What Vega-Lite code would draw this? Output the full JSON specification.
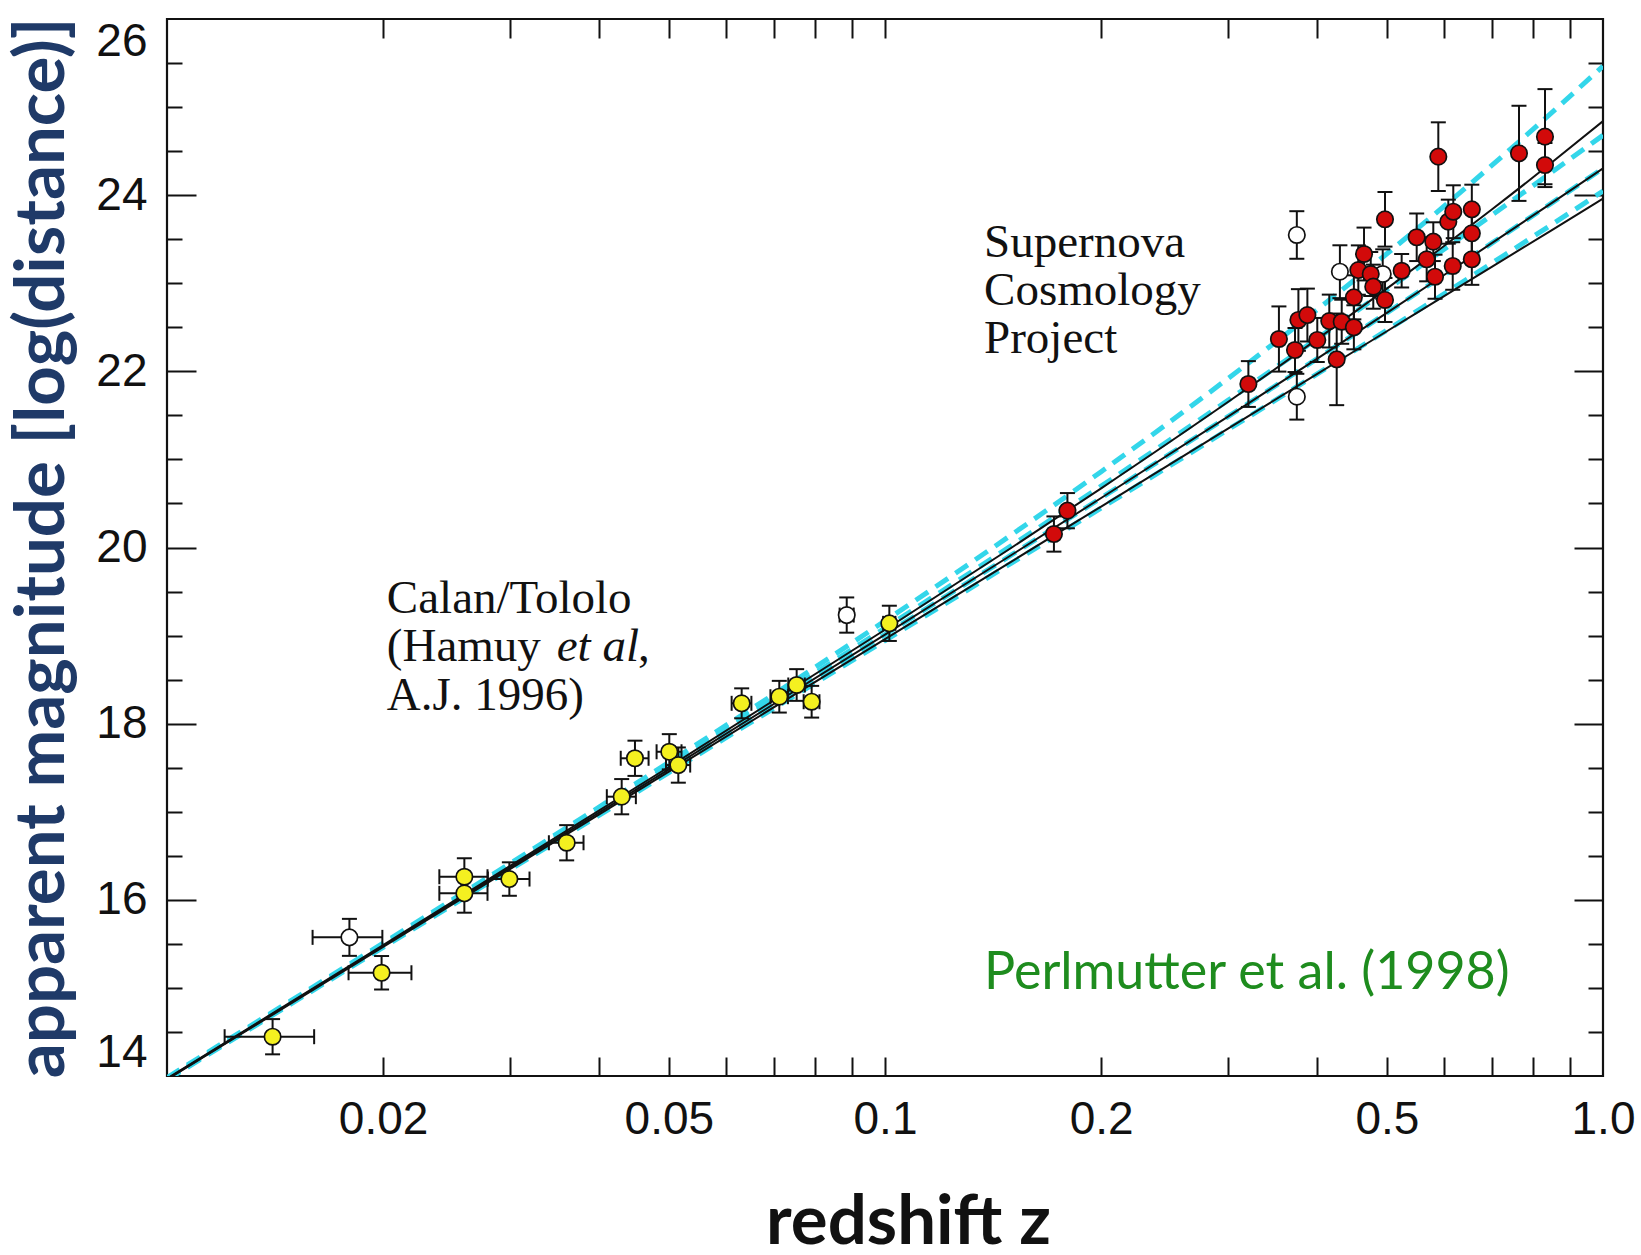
{
  "$schema": "https://vega.github.io/schema/vega-lite/v6.json",
  "width": 1436,
  "height": 1057,
  "autosize": {"type": "none"},
  "padding": {"left": 167, "top": 19, "right": 38, "bottom": 179},
  "background": "white",
  "config": {
    "view": {"stroke": "#111111", "strokeWidth": 2.2},
    "axis": {
      "grid": false,
      "domain": false,
      "labelFont": "Liberation Sans",
      "labelFontSize": 46,
      "labelColor": "#111111",
      "tickColor": "#111111",
      "tickWidth": 2,
      "titleFont": "Lato",
      "titleFontWeight": "bold",
      "titleFontSize": 69,
      "labelOverlap": false,
      "labelBound": false
    }
  },
  "datasets": {
    "solid": [
      {"model": "Om0_OL0", "z": 0.01, "m": 13.971}, {"model": "Om0_OL0", "z": 0.02, "m": 15.487}, {"model": "Om0_OL0", "z": 0.05, "m": 17.508}, {"model": "Om0_OL0", "z": 0.1, "m": 19.066}, {"model": "Om0_OL0", "z": 0.15, "m": 19.997}, {"model": "Om0_OL0", "z": 0.2, "m": 20.672}, {"model": "Om0_OL0", "z": 0.3, "m": 21.649}, {"model": "Om0_OL0", "z": 0.4, "m": 22.366}, {"model": "Om0_OL0", "z": 0.5, "m": 22.939}, {"model": "Om0_OL0", "z": 0.6, "m": 23.42}, {"model": "Om0_OL0", "z": 0.7, "m": 23.837}, {"model": "Om0_OL0", "z": 0.85, "m": 24.376}, {"model": "Om0_OL0", "z": 1.0, "m": 24.84},
      {"model": "Om1_OL0", "z": 0.01, "m": 13.965}, {"model": "Om1_OL0", "z": 0.02, "m": 15.476}, {"model": "Om1_OL0", "z": 0.05, "m": 17.481}, {"model": "Om1_OL0", "z": 0.1, "m": 19.011}, {"model": "Om1_OL0", "z": 0.15, "m": 19.915}, {"model": "Om1_OL0", "z": 0.2, "m": 20.562}, {"model": "Om1_OL0", "z": 0.3, "m": 21.483}, {"model": "Om1_OL0", "z": 0.4, "m": 22.145}, {"model": "Om1_OL0", "z": 0.5, "m": 22.664}, {"model": "Om1_OL0", "z": 0.6, "m": 23.091}, {"model": "Om1_OL0", "z": 0.7, "m": 23.455}, {"model": "Om1_OL0", "z": 0.85, "m": 23.916}, {"model": "Om1_OL0", "z": 1.0, "m": 24.304},
      {"model": "Om2_OL0", "z": 0.01, "m": 13.96}, {"model": "Om2_OL0", "z": 0.02, "m": 15.465}, {"model": "Om2_OL0", "z": 0.05, "m": 17.455}, {"model": "Om2_OL0", "z": 0.1, "m": 18.96}, {"model": "Om2_OL0", "z": 0.15, "m": 19.84}, {"model": "Om2_OL0", "z": 0.2, "m": 20.465}, {"model": "Om2_OL0", "z": 0.3, "m": 21.346}, {"model": "Om2_OL0", "z": 0.4, "m": 21.97}, {"model": "Om2_OL0", "z": 0.5, "m": 22.455}, {"model": "Om2_OL0", "z": 0.6, "m": 22.851}, {"model": "Om2_OL0", "z": 0.7, "m": 23.186}, {"model": "Om2_OL0", "z": 0.85, "m": 23.607}, {"model": "Om2_OL0", "z": 1.0, "m": 23.96}
    ],
    "dashed": [
      {"model": "Om0_OL1", "z": 0.01, "m": 13.982}, {"model": "Om0_OL1", "z": 0.02, "m": 15.508}, {"model": "Om0_OL1", "z": 0.05, "m": 17.561}, {"model": "Om0_OL1", "z": 0.1, "m": 19.167}, {"model": "Om0_OL1", "z": 0.15, "m": 20.144}, {"model": "Om0_OL1", "z": 0.2, "m": 20.861}, {"model": "Om0_OL1", "z": 0.3, "m": 21.915}, {"model": "Om0_OL1", "z": 0.4, "m": 22.701}, {"model": "Om0_OL1", "z": 0.5, "m": 23.335}, {"model": "Om0_OL1", "z": 0.6, "m": 23.871}, {"model": "Om0_OL1", "z": 0.7, "m": 24.338}, {"model": "Om0_OL1", "z": 0.85, "m": 24.943}, {"model": "Om0_OL1", "z": 1.0, "m": 25.465},
      {"model": "Om05_OL05", "z": 0.01, "m": 13.973}, {"model": "Om05_OL05", "z": 0.02, "m": 15.492}, {"model": "Om05_OL05", "z": 0.05, "m": 17.52}, {"model": "Om05_OL05", "z": 0.1, "m": 19.085}, {"model": "Om05_OL05", "z": 0.15, "m": 20.021}, {"model": "Om05_OL05", "z": 0.2, "m": 20.696}, {"model": "Om05_OL05", "z": 0.3, "m": 21.668}, {"model": "Om05_OL05", "z": 0.4, "m": 22.372}, {"model": "Om05_OL05", "z": 0.5, "m": 22.926}, {"model": "Om05_OL05", "z": 0.6, "m": 23.383}, {"model": "Om05_OL05", "z": 0.7, "m": 23.772}, {"model": "Om05_OL05", "z": 0.85, "m": 24.265}, {"model": "Om05_OL05", "z": 1.0, "m": 24.68},
      {"model": "Om1_OL0", "z": 0.01, "m": 13.965}, {"model": "Om1_OL0", "z": 0.02, "m": 15.476}, {"model": "Om1_OL0", "z": 0.05, "m": 17.481}, {"model": "Om1_OL0", "z": 0.1, "m": 19.011}, {"model": "Om1_OL0", "z": 0.15, "m": 19.915}, {"model": "Om1_OL0", "z": 0.2, "m": 20.562}, {"model": "Om1_OL0", "z": 0.3, "m": 21.483}, {"model": "Om1_OL0", "z": 0.4, "m": 22.145}, {"model": "Om1_OL0", "z": 0.5, "m": 22.664}, {"model": "Om1_OL0", "z": 0.6, "m": 23.091}, {"model": "Om1_OL0", "z": 0.7, "m": 23.455}, {"model": "Om1_OL0", "z": 0.85, "m": 23.916}, {"model": "Om1_OL0", "z": 1.0, "m": 24.304},
      {"model": "Om15_OLm05", "z": 0.01, "m": 13.957}, {"model": "Om15_OLm05", "z": 0.02, "m": 15.46}, {"model": "Om15_OLm05", "z": 0.05, "m": 17.445}, {"model": "Om15_OLm05", "z": 0.1, "m": 18.944}, {"model": "Om15_OLm05", "z": 0.15, "m": 19.823}, {"model": "Om15_OLm05", "z": 0.2, "m": 20.448}, {"model": "Om15_OLm05", "z": 0.3, "m": 21.335}, {"model": "Om15_OLm05", "z": 0.4, "m": 21.97}, {"model": "Om15_OLm05", "z": 0.5, "m": 22.467}, {"model": "Om15_OLm05", "z": 0.6, "m": 22.877}, {"model": "Om15_OLm05", "z": 0.7, "m": 23.227}, {"model": "Om15_OLm05", "z": 0.85, "m": 23.671}, {"model": "Om15_OLm05", "z": 1.0, "m": 24.046}
    ],
    "sn": [
      {"grp": "Calan/Tololo", "z": 0.01403, "m": 14.446, "mlo": 14.246, "mhi": 14.646, "zlo": 0.01203, "zhi": 0.01603},
      {"grp": "Calan/Tololo", "z": 0.0199, "m": 15.172, "mlo": 14.982, "mhi": 15.362, "zlo": 0.0179, "zhi": 0.0219},
      {"grp": "other", "z": 0.01795, "m": 15.574, "mlo": 15.364, "mhi": 15.784, "zlo": 0.01595, "zhi": 0.01995},
      {"grp": "Calan/Tololo", "z": 0.02595, "m": 16.262, "mlo": 16.052, "mhi": 16.472, "zlo": 0.02395, "zhi": 0.02795},
      {"grp": "Calan/Tololo", "z": 0.02595, "m": 16.074, "mlo": 15.854, "mhi": 16.294, "zlo": 0.02395, "zhi": 0.02795},
      {"grp": "Calan/Tololo", "z": 0.02998, "m": 16.236, "mlo": 16.046, "mhi": 16.426, "zlo": 0.02798, "zhi": 0.03198},
      {"grp": "Calan/Tololo", "z": 0.03603, "m": 16.648, "mlo": 16.448, "mhi": 16.848, "zlo": 0.03403, "zhi": 0.03803},
      {"grp": "Calan/Tololo", "z": 0.04298, "m": 17.171, "mlo": 16.971, "mhi": 17.371, "zlo": 0.04098, "zhi": 0.04498},
      {"grp": "Calan/Tololo", "z": 0.04485, "m": 17.607, "mlo": 17.407, "mhi": 17.807, "zlo": 0.04285, "zhi": 0.04685},
      {"grp": "Calan/Tololo", "z": 0.05007, "m": 17.681, "mlo": 17.481, "mhi": 17.881, "zlo": 0.04807, "zhi": 0.05207},
      {"grp": "Calan/Tololo", "z": 0.05154, "m": 17.53, "mlo": 17.33, "mhi": 17.73, "zlo": 0.04954, "zhi": 0.05354},
      {"grp": "Calan/Tololo", "z": 0.06315, "m": 18.231, "mlo": 18.061, "mhi": 18.401, "zlo": 0.06115, "zhi": 0.06515},
      {"grp": "Calan/Tololo", "z": 0.07125, "m": 18.306, "mlo": 18.126, "mhi": 18.486, "zlo": 0.06925, "zhi": 0.07325},
      {"grp": "Calan/Tololo", "z": 0.07533, "m": 18.439, "mlo": 18.259, "mhi": 18.619, "zlo": 0.07333, "zhi": 0.07733},
      {"grp": "Calan/Tololo", "z": 0.07904, "m": 18.249, "mlo": 18.069, "mhi": 18.429, "zlo": 0.07704, "zhi": 0.08104},
      {"grp": "other", "z": 0.08845, "m": 19.233, "mlo": 19.033, "mhi": 19.433, "zlo": 0.08645, "zhi": 0.09045},
      {"grp": "Calan/Tololo", "z": 0.1014, "m": 19.139, "mlo": 18.939, "mhi": 19.339, "zlo": 0.0994, "zhi": 0.1034},
      {"grp": "other", "z": 0.3746, "m": 23.548, "mlo": 23.278, "mhi": 23.818},
      {"grp": "other", "z": 0.3746, "m": 21.712, "mlo": 21.452, "mhi": 21.972},
      {"grp": "other", "z": 0.4301, "m": 23.131, "mlo": 22.831, "mhi": 23.431},
      {"grp": "other", "z": 0.4934, "m": 23.105, "mlo": 22.825, "mhi": 23.385},
      {"grp": "SCP", "z": 0.1719, "m": 20.153, "mlo": 19.953, "mhi": 20.353},
      {"grp": "SCP", "z": 0.1795, "m": 20.418, "mlo": 20.218, "mhi": 20.618},
      {"grp": "SCP", "z": 0.3207, "m": 21.856, "mlo": 21.596, "mhi": 22.116},
      {"grp": "SCP", "z": 0.3537, "m": 22.367, "mlo": 21.997, "mhi": 22.737},
      {"grp": "SCP", "z": 0.3724, "m": 22.242, "mlo": 21.992, "mhi": 22.492},
      {"grp": "SCP", "z": 0.3765, "m": 22.583, "mlo": 22.233, "mhi": 22.933},
      {"grp": "SCP", "z": 0.3875, "m": 22.639, "mlo": 22.339, "mhi": 22.939},
      {"grp": "SCP", "z": 0.4, "m": 22.356, "mlo": 22.106, "mhi": 22.606},
      {"grp": "SCP", "z": 0.4157, "m": 22.571, "mlo": 22.271, "mhi": 22.871},
      {"grp": "SCP", "z": 0.4257, "m": 22.136, "mlo": 21.616, "mhi": 22.656},
      {"grp": "SCP", "z": 0.4326, "m": 22.563, "mlo": 22.313, "mhi": 22.813},
      {"grp": "SCP", "z": 0.4498, "m": 22.5, "mlo": 22.25, "mhi": 22.75},
      {"grp": "SCP", "z": 0.4498, "m": 22.84, "mlo": 22.59, "mhi": 23.09},
      {"grp": "SCP", "z": 0.4563, "m": 23.15, "mlo": 22.87, "mhi": 23.43},
      {"grp": "SCP", "z": 0.4647, "m": 23.332, "mlo": 23.032, "mhi": 23.632},
      {"grp": "SCP", "z": 0.4748, "m": 23.105, "mlo": 22.855, "mhi": 23.355},
      {"grp": "SCP", "z": 0.4787, "m": 22.961, "mlo": 22.711, "mhi": 23.211},
      {"grp": "SCP", "z": 0.497, "m": 22.81, "mlo": 22.56, "mhi": 23.06},
      {"grp": "SCP", "z": 0.497, "m": 23.726, "mlo": 23.416, "mhi": 24.036},
      {"grp": "SCP", "z": 0.5243, "m": 23.142, "mlo": 22.952, "mhi": 23.332},
      {"grp": "SCP", "z": 0.5502, "m": 23.522, "mlo": 23.252, "mhi": 23.792},
      {"grp": "SCP", "z": 0.5681, "m": 23.272, "mlo": 23.022, "mhi": 23.522},
      {"grp": "SCP", "z": 0.5803, "m": 23.472, "mlo": 23.252, "mhi": 23.692},
      {"grp": "SCP", "z": 0.5835, "m": 23.074, "mlo": 22.824, "mhi": 23.324},
      {"grp": "SCP", "z": 0.5897, "m": 24.437, "mlo": 24.047, "mhi": 24.827},
      {"grp": "SCP", "z": 0.6089, "m": 23.699, "mlo": 23.449, "mhi": 23.949},
      {"grp": "SCP", "z": 0.6176, "m": 23.196, "mlo": 22.926, "mhi": 23.466},
      {"grp": "SCP", "z": 0.6187, "m": 23.812, "mlo": 23.512, "mhi": 24.112},
      {"grp": "SCP", "z": 0.6566, "m": 23.839, "mlo": 23.559, "mhi": 24.119},
      {"grp": "SCP", "z": 0.6566, "m": 23.567, "mlo": 23.317, "mhi": 23.817},
      {"grp": "SCP", "z": 0.6566, "m": 23.272, "mlo": 22.982, "mhi": 23.562},
      {"grp": "SCP", "z": 0.7638, "m": 24.475, "mlo": 23.935, "mhi": 25.015},
      {"grp": "SCP", "z": 0.8302, "m": 24.664, "mlo": 24.124, "mhi": 25.204},
      {"grp": "SCP", "z": 0.8302, "m": 24.342, "mlo": 24.092, "mhi": 24.592}
    ],
    "serif": [
      {"text": "Supernova", "z": 0.1374, "m": 23.3},
      {"text": "Cosmology", "z": 0.1374, "m": 22.753},
      {"text": "Project", "z": 0.1374, "m": 22.206},
      {"text": "Calan/Tololo", "z": 0.02024, "m": 19.253},
      {"text": "(Hamuy", "z": 0.02024, "m": 18.706},
      {"text": ",", "z": 0.0453, "m": 18.706},
      {"text": "A.J. 1996)", "z": 0.02024, "m": 18.159}
    ],
    "italic": [
      {"text": "et al", "z": 0.0349, "m": 18.706}
    ],
    "credit": [
      {"text": "Perlmutter et al. (1998)", "z": 0.1374, "m": 14.987}
    ]
  },
  "resolve": {"axis": {"x": "independent", "y": "independent"}},
  "layer": [
    {
      "data": {"name": "dashed"},
      "mark": {"type": "line", "stroke": "#33d6ea", "strokeWidth": 5, "strokeDash": [15, 9], "clip": true, "interpolate": "monotone"},
      "encoding": {
        "x": {"field": "z", "type": "quantitative", "scale": {"type": "log", "domain": [0.01, 1], "nice": false},
          "axis": {"orient": "bottom", "values": [0.02, 0.05, 0.1, 0.2, 0.5, 1], "ticks": false, "labelPadding": 21, "labelFlush": false,
            "labelExpr": "datum.value == 1 ? '1.0' : format(datum.value, '~g')",
            "title": "redshift z", "titleColor": "#111111", "titlePadding": 46, "titleX": 741}},
        "y": {"field": "m", "type": "quantitative", "scale": {"domain": [14, 26], "zero": false, "nice": false},
          "axis": {"orient": "left", "values": [14, 16, 18, 20, 22, 24, 26], "ticks": false, "labelPadding": 20, "labelFlush": true, "format": "d",
            "title": "apparent magnitude [log(distance)]", "titleColor": "#1f3a68", "titlePadding": 18}},
        "detail": {"field": "model"}
      }
    },
    {
      "data": {"name": "solid"},
      "mark": {"type": "line", "stroke": "#111111", "strokeWidth": 2, "clip": true, "interpolate": "monotone"},
      "encoding": {
        "x": {"field": "z", "type": "quantitative", "scale": {"type": "log", "domain": [0.01, 1], "nice": false},
          "axis": {"orient": "bottom", "values": [0.02, 0.03, 0.04, 0.05, 0.06, 0.07, 0.08, 0.09, 0.1, 0.2, 0.3, 0.4, 0.5, 0.6, 0.7, 0.8, 0.9], "labels": false, "tickSize": -19, "title": null}},
        "y": {"field": "m", "type": "quantitative", "scale": {"domain": [14, 26], "zero": false, "nice": false},
          "axis": {"orient": "left", "values": [16, 18, 20, 22, 24], "labels": false, "tickSize": -29, "title": null}},
        "detail": {"field": "model"}
      }
    },
    {
      "data": {"name": "sn"},
      "mark": {"type": "rule", "stroke": "#111111", "strokeWidth": 2},
      "encoding": {
        "x": {"field": "z", "type": "quantitative", "scale": {"type": "log", "domain": [0.01, 1], "nice": false},
          "axis": {"orient": "top", "values": [0.02, 0.03, 0.04, 0.05, 0.06, 0.07, 0.08, 0.09, 0.1, 0.2, 0.3, 0.4, 0.5, 0.6, 0.7, 0.8, 0.9], "labels": false, "tickSize": -19, "title": null}},
        "y": {"field": "mlo", "type": "quantitative", "scale": {"domain": [14, 26], "zero": false, "nice": false},
          "axis": {"orient": "left", "values": [14.5, 15, 15.5, 16.5, 17, 17.5, 18.5, 19, 19.5, 20.5, 21, 21.5, 22.5, 23, 23.5, 24.5, 25, 25.5], "labels": false, "tickSize": -15, "title": null}},
        "y2": {"field": "mhi"}
      }
    },
    {
      "data": {"name": "sn"},
      "transform": [{"filter": "isValid(datum.zlo)"}],
      "mark": {"type": "rule", "stroke": "#111111", "strokeWidth": 2},
      "encoding": {
        "x": {"field": "zlo", "type": "quantitative", "scale": {"type": "log", "domain": [0.01, 1], "nice": false}, "axis": null},
        "x2": {"field": "zhi"},
        "y": {"field": "m", "type": "quantitative", "scale": {"domain": [14, 26], "zero": false, "nice": false},
          "axis": {"orient": "right", "values": [16, 18, 20, 22, 24], "labels": false, "tickSize": -29, "title": null}}
      }
    },
    {
      "data": {"name": "sn"},
      "mark": {"type": "tick", "orient": "horizontal", "color": "#111111", "size": 15, "thickness": 2, "opacity": 1},
      "encoding": {
        "x": {"field": "z", "type": "quantitative", "scale": {"type": "log", "domain": [0.01, 1], "nice": false}, "axis": null},
        "y": {"field": "mlo", "type": "quantitative", "scale": {"domain": [14, 26], "zero": false, "nice": false},
          "axis": {"orient": "right", "values": [14.5, 15, 15.5, 16.5, 17, 17.5, 18.5, 19, 19.5, 20.5, 21, 21.5, 22.5, 23, 23.5, 24.5, 25, 25.5], "labels": false, "tickSize": -15, "title": null}}
      }
    },
    {
      "data": {"name": "sn"},
      "mark": {"type": "tick", "orient": "horizontal", "color": "#111111", "size": 15, "thickness": 2, "opacity": 1},
      "encoding": {
        "x": {"field": "z", "type": "quantitative", "scale": {"type": "log", "domain": [0.01, 1], "nice": false}, "axis": null},
        "y": {"field": "mhi", "type": "quantitative", "scale": {"domain": [14, 26], "zero": false, "nice": false}, "axis": null}
      }
    },
    {
      "data": {"name": "sn"},
      "transform": [{"filter": "isValid(datum.zlo)"}],
      "mark": {"type": "tick", "orient": "vertical", "color": "#111111", "size": 15, "thickness": 2, "opacity": 1},
      "encoding": {
        "x": {"field": "zlo", "type": "quantitative", "scale": {"type": "log", "domain": [0.01, 1], "nice": false}, "axis": null},
        "y": {"field": "m", "type": "quantitative", "scale": {"domain": [14, 26], "zero": false, "nice": false}, "axis": null}
      }
    },
    {
      "data": {"name": "sn"},
      "transform": [{"filter": "isValid(datum.zhi)"}],
      "mark": {"type": "tick", "orient": "vertical", "color": "#111111", "size": 15, "thickness": 2, "opacity": 1},
      "encoding": {
        "x": {"field": "zhi", "type": "quantitative", "scale": {"type": "log", "domain": [0.01, 1], "nice": false}, "axis": null},
        "y": {"field": "m", "type": "quantitative", "scale": {"domain": [14, 26], "zero": false, "nice": false}, "axis": null}
      }
    },
    {
      "data": {"name": "sn"},
      "mark": {"type": "circle", "size": 270, "stroke": "#111111", "strokeWidth": 1.7, "opacity": 1},
      "encoding": {
        "x": {"field": "z", "type": "quantitative", "scale": {"type": "log", "domain": [0.01, 1], "nice": false}, "axis": null},
        "y": {"field": "m", "type": "quantitative", "scale": {"domain": [14, 26], "zero": false, "nice": false}, "axis": null},
        "fill": {"field": "grp", "type": "nominal", "legend": null,
          "scale": {"domain": ["Calan/Tololo", "SCP", "other"], "range": ["#f4f020", "#d20a0a", "#ffffff"]}}
      }
    },
    {
      "data": {"name": "serif"},
      "mark": {"type": "text", "font": "Liberation Serif", "fontSize": 47, "color": "#111111", "align": "left", "baseline": "alphabetic"},
      "encoding": {
        "x": {"field": "z", "type": "quantitative", "scale": {"type": "log", "domain": [0.01, 1], "nice": false}, "axis": null},
        "y": {"field": "m", "type": "quantitative", "scale": {"domain": [14, 26], "zero": false, "nice": false}, "axis": null},
        "text": {"field": "text"}
      }
    },
    {
      "data": {"name": "italic"},
      "mark": {"type": "text", "font": "Liberation Serif", "fontStyle": "italic", "fontSize": 47, "color": "#111111", "align": "left", "baseline": "alphabetic"},
      "encoding": {
        "x": {"field": "z", "type": "quantitative", "scale": {"type": "log", "domain": [0.01, 1], "nice": false}, "axis": null},
        "y": {"field": "m", "type": "quantitative", "scale": {"domain": [14, 26], "zero": false, "nice": false}, "axis": null},
        "text": {"field": "text"}
      }
    },
    {
      "data": {"name": "credit"},
      "mark": {"type": "text", "font": "Lato", "fontSize": 52, "color": "#1e8c1e", "align": "left", "baseline": "alphabetic"},
      "encoding": {
        "x": {"field": "z", "type": "quantitative", "scale": {"type": "log", "domain": [0.01, 1], "nice": false}, "axis": null},
        "y": {"field": "m", "type": "quantitative", "scale": {"domain": [14, 26], "zero": false, "nice": false}, "axis": null},
        "text": {"field": "text"}
      }
    }
  ]
}
